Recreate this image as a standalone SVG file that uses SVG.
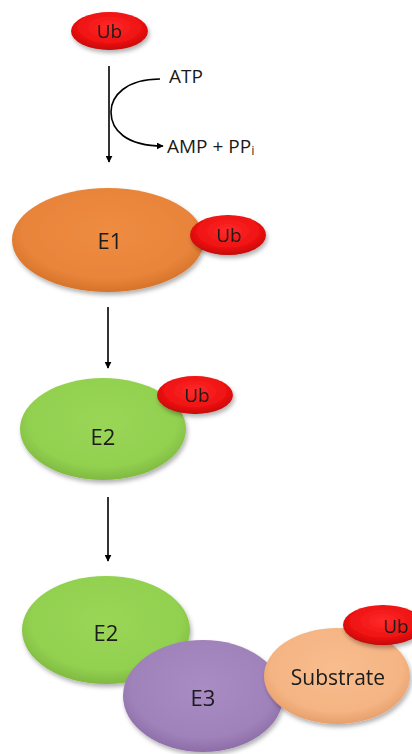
<svg xmlns="http://www.w3.org/2000/svg" width="412" height="754" viewBox="0 0 412 754">
  <style>
    .lbl { font-family: "Open Sans", "Liberation Sans", sans-serif; fill: #1a1a1a; text-anchor: middle; dominant-baseline: central; }
    .note { font-family: "Open Sans", "Liberation Sans", sans-serif; fill: #1a1a1a; font-size: 19px; }
    .conn { stroke: #000; stroke-width: 1.6; fill: none; }
  </style>
  <defs>
    <filter id="shadow" x="-20%" y="-20%" width="140%" height="150%">
      <feDropShadow dx="1.5" dy="3" stdDeviation="2.2" flood-color="#000" flood-opacity="0.3"/>
    </filter>
    <radialGradient id="gRed" cx="50%" cy="40%" r="60%">
      <stop offset="0" stop-color="#ff2a2a"/>
      <stop offset="0.7" stop-color="#ee1111"/>
      <stop offset="1" stop-color="#c00606"/>
    </radialGradient>
    <radialGradient id="gOrange" cx="50%" cy="42%" r="60%">
      <stop offset="0" stop-color="#ee8c42"/>
      <stop offset="0.75" stop-color="#e8843a"/>
      <stop offset="1" stop-color="#d27028"/>
    </radialGradient>
    <radialGradient id="gGreen" cx="50%" cy="42%" r="60%">
      <stop offset="0" stop-color="#9ad656"/>
      <stop offset="0.75" stop-color="#92d050"/>
      <stop offset="1" stop-color="#7db63e"/>
    </radialGradient>
    <radialGradient id="gPurple" cx="50%" cy="42%" r="60%">
      <stop offset="0" stop-color="#a98cc4"/>
      <stop offset="0.75" stop-color="#a082ba"/>
      <stop offset="1" stop-color="#8a6aa5"/>
    </radialGradient>
    <radialGradient id="gPeach" cx="50%" cy="42%" r="60%">
      <stop offset="0" stop-color="#f8bd8e"/>
      <stop offset="0.75" stop-color="#f5b483"/>
      <stop offset="1" stop-color="#e49c68"/>
    </radialGradient>
    <marker id="arrow" viewBox="0 0 10 10" refX="9" refY="5" markerWidth="7" markerHeight="7" markerUnits="userSpaceOnUse" orient="auto">
      <path d="M0,0 L10,5 L0,10 Z" fill="#000"/>
    </marker>
  </defs>

  <!-- connectors -->
  <g id="connectors">
    <line class="conn" x1="109" y1="66" x2="109" y2="162" marker-end="url(#arrow)"/>
    <path class="conn" d="M160,79 C126,79 111,96 111,112 C111,130 126,146 163,146" marker-end="url(#arrow)"/>
    <line class="conn" x1="108" y1="307" x2="108" y2="368" marker-end="url(#arrow)"/>
    <line class="conn" x1="108" y1="497" x2="108" y2="561" marker-end="url(#arrow)"/>
  </g>

  <!-- reaction side labels -->
  <g id="atp">
    <text class="note" x="169" y="83">ATP</text>
  </g>
  <g id="amp">
    <text class="note" x="167" y="153">AMP + PP<tspan font-size="13" dy="2" fill="#333">i</tspan></text>
  </g>

  <!-- free ubiquitin -->
  <g id="ub-free" filter="url(#shadow)">
    <ellipse cx="109.5" cy="31" rx="38.5" ry="19" fill="url(#gRed)"/>
    <text class="lbl" x="109.5" y="31" font-size="19">Ub</text>
  </g>

  <!-- E1 charged with ubiquitin -->
  <g id="e1" filter="url(#shadow)">
    <ellipse cx="108" cy="240" rx="96" ry="52" fill="url(#gOrange)"/>
    <text class="lbl" x="110" y="240" font-size="22">E1</text>
  </g>
  <g id="ub-e1" filter="url(#shadow)">
    <ellipse cx="228" cy="235" rx="38" ry="20" fill="url(#gRed)"/>
    <text class="lbl" x="229" y="235" font-size="19">Ub</text>
  </g>

  <!-- E2 charged with ubiquitin -->
  <g id="e2" filter="url(#shadow)">
    <ellipse cx="103" cy="429" rx="83" ry="51" fill="url(#gGreen)"/>
    <text class="lbl" x="103" y="436" font-size="22">E2</text>
  </g>
  <g id="ub-e2" filter="url(#shadow)">
    <ellipse cx="195" cy="395" rx="38" ry="19" fill="url(#gRed)"/>
    <text class="lbl" x="197" y="395" font-size="19">Ub</text>
  </g>

  <!-- E2 / E3 / substrate complex -->
  <g id="e2-complex" filter="url(#shadow)">
    <ellipse cx="106" cy="630" rx="84" ry="54" fill="url(#gGreen)"/>
    <text class="lbl" x="106" y="632" font-size="22">E2</text>
  </g>
  <g id="e3" filter="url(#shadow)">
    <ellipse cx="203" cy="696" rx="80" ry="56" fill="url(#gPurple)"/>
    <text class="lbl" x="203" y="697" font-size="22">E3</text>
  </g>
  <g id="substrate" filter="url(#shadow)">
    <ellipse cx="337" cy="676" rx="73" ry="48" fill="url(#gPeach)"/>
    <text class="lbl" x="338" y="677" font-size="21">Substrate</text>
  </g>
  <g id="ub-substrate" filter="url(#shadow)">
    <ellipse cx="383" cy="625" rx="40" ry="20" fill="url(#gRed)"/>
    <text class="lbl" x="396" y="626" font-size="19">Ub</text>
  </g>
</svg>
